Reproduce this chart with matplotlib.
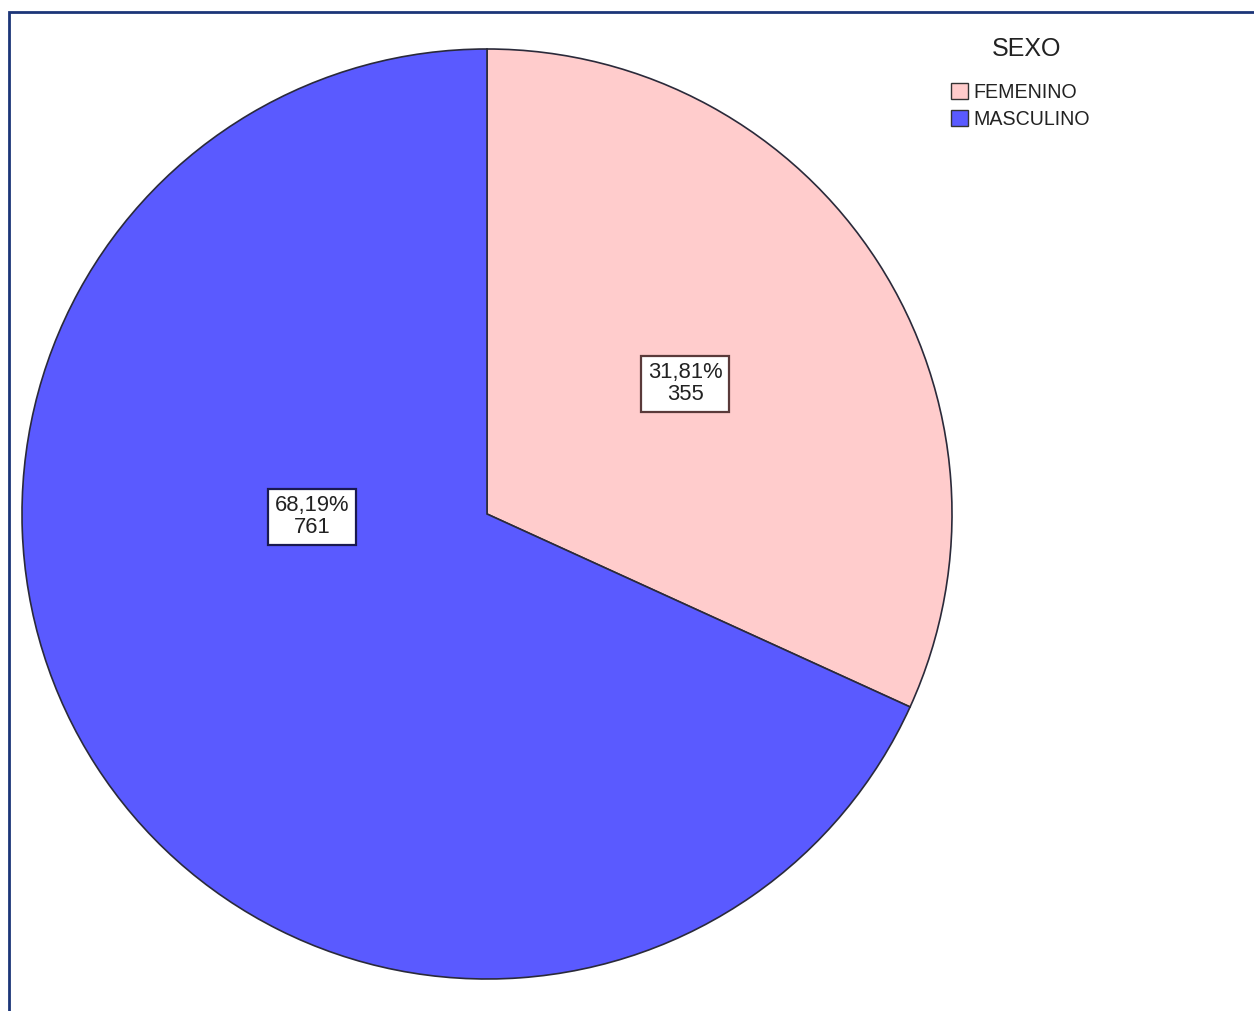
import matplotlib
matplotlib.use("Agg")
import matplotlib.pyplot as plt
from matplotlib.patches import Rectangle, Patch
import numpy as np

plt.rcParams['font.family'] = ['Liberation Sans', 'DejaVu Sans']

categories = ["FEMENINO", "MASCULINO"]
counts = [355, 761]
percent_labels = ["31,81%", "68,19%"]
legend_title = "SEXO"

colors = ["#FFCCCC", "#5A5AFF"]
box_edges = ["#5a3a3a", "#1a1a50"]

W, H = 1254, 1011
fig = plt.figure(figsize=(W / 100, H / 100), dpi=100)
fig.patch.set_facecolor("white")

# pie axes: center (487, 514) px, radius 465 px
cx, cy, r = 487, 514, 465
ax = fig.add_axes([(cx - r) / W, (H - cy - r) / H, 2 * r / W, 2 * r / H])
wedges, _ = ax.pie(counts, colors=colors, startangle=90, counterclock=False,
                   radius=1.0, wedgeprops=dict(edgecolor="#2a2a3a", linewidth=1.2))
ax.set_xlim(-1, 1)
ax.set_ylim(-1, 1)
ax.set_aspect("equal")
ax.axis("off")

# label placement (fraction of radius)
label_pos = [(0.426, 0.280), (-0.376, -0.006)]
for (x, y), pct, n, ec in zip(label_pos, percent_labels, counts, box_edges):
    ax.text(x, y, f"{pct}\n{n}", ha="center", va="center", fontsize=15.8,
            color="#222222", linespacing=1.05,
            bbox=dict(boxstyle="square,pad=0.3", facecolor="white",
                      edgecolor=ec, linewidth=1.6))

handles = [Patch(facecolor=c, edgecolor="#333333", linewidth=1.0) for c in colors]
leg = fig.legend(handles, categories, loc="upper left",
                 bbox_to_anchor=(951 / W, 1 - 83 / H), frameon=False,
                 fontsize=14.1, handlelength=0.88,
                 handleheight=0.88, handletextpad=0.25, labelspacing=0.40,
                 borderpad=0, borderaxespad=0)
for t in leg.get_texts():
    t.set_color("#222222")
fig.text(1027 / W, 1 - 49 / H, legend_title, ha="center", va="center",
         fontsize=18, color="#222222")

# outer frame (top and left visible, extends beyond right/bottom)
fig.add_artist(Rectangle((9 / W, -0.1), 1.2, 1 - 12 / H + 0.1,
                         transform=fig.transFigure, fill=False,
                         edgecolor="#1c3578", linewidth=2.0))

fig.savefig("out.png", dpi=100, facecolor="white")
